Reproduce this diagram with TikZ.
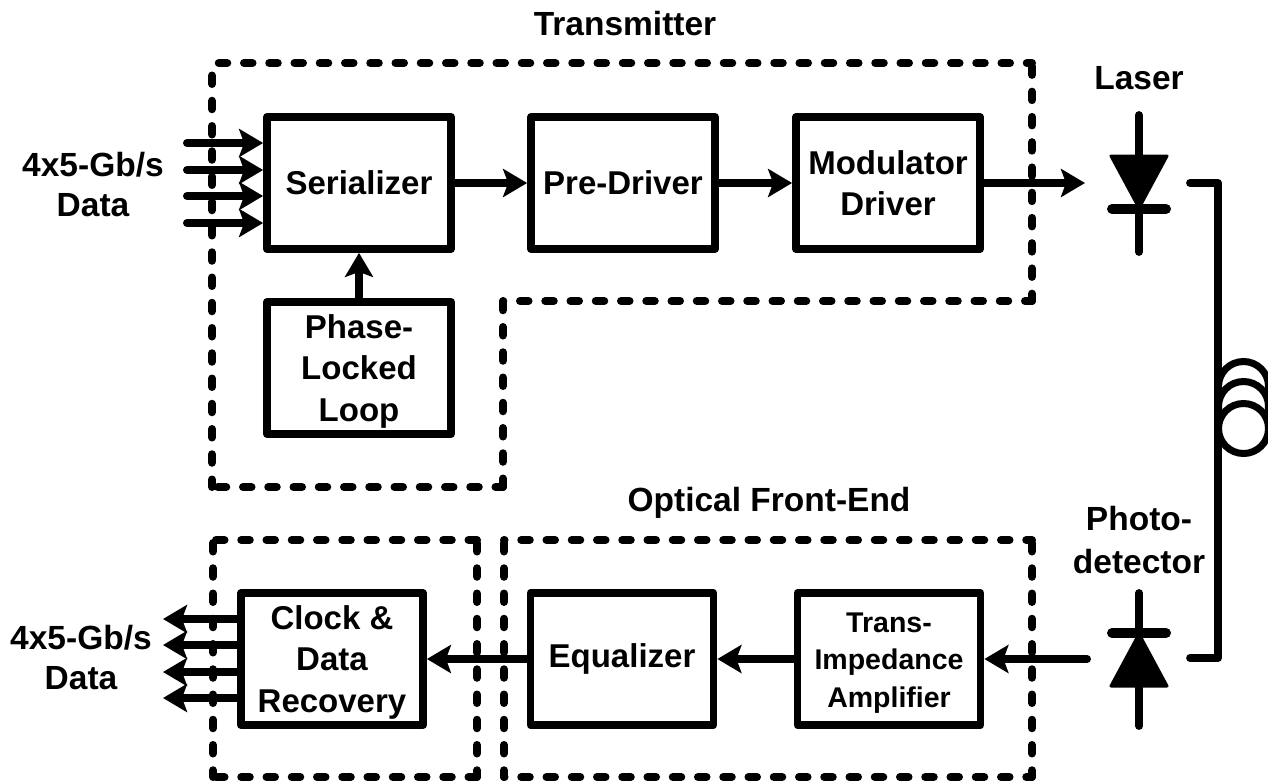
\documentclass[tikz,border=0pt]{standalone}
\usepackage{fontspec}
\setmainfont{Liberation Sans}
\usetikzlibrary{arrows.meta,calc}
\newcommand{\topfix}{\rule{0pt}{30pt}}
\tikzset{
 blockbox/.style={draw=black,line width=7.8pt,line join=round,align=center,inner sep=0pt,font=\fontsize{33}{41.5}\selectfont\bfseries,minimum width=184pt,minimum height=132pt},
 lbl/.style={align=center,inner sep=0pt,font=\fontsize{33.5}{40}\selectfont\bfseries},
 flow/.style={line width=8pt,line cap=round,-{Stealth[length=24pt,width=28pt,inset=5pt]}},
 dashside/.style={line width=8pt,line cap=round,dash pattern=on 8.5pt off 16.75pt},
 wire/.style={line width=7.8pt,line cap=round,line join=round},
 bar/.style={line width=10pt,line cap=round},
 tri/.style={fill=black,draw=black,line width=3pt,line join=round},
 coil/.style={draw=black,fill=white,line width=7pt},
}
\begin{document}
\begin{tikzpicture}[x=1pt,y=-1pt]
\useasboundingbox (0,0) rectangle (1268,782);
% blocks
\node[blockbox] (ser) at (359,183) {Serializer};
\node[blockbox] (pre) at (623,183) {Pre-Driver};
\node[blockbox] (mod) at (888,183) {Modulator\\Driver};
\node[blockbox] (pll) at (359,368) {\topfix Phase-\\Locked\\Loop};
\node[blockbox,minimum width=182pt] (cdr) at (332,659) {\topfix Clock \&\\Data\\Recovery};
\node[blockbox,minimum width=183pt] (eq) at (622,659) {Equalizer};
\node[blockbox,minimum width=183pt,font=\fontsize{28.5}{37.5}\selectfont\bfseries] (tia) at (889,659) {\rule{0pt}{27pt}Trans-\\Impedance\\Amplifier};
% labels
\node[lbl] (ltx) at (625,24) {Transmitter};
\node[lbl] (llaser) at (1139,78) {Laser};
\node[lbl] (lofe) at (769,503) {Optical Front-End};
\node[lbl,font=\fontsize{33.5}{42.5}\selectfont\bfseries] (lpd) at (1139,540) {Photo-\\detector};
\node[lbl] (lin) at (93,185) {4x5-Gb/s\\Data};
\node[lbl] (lout) at (81,658) {4x5-Gb/s\\Data};
% dashed regions
\coordinate (t1) at (212,63); \coordinate (t2) at (1032,63); \coordinate (t3) at (1032,301);
\coordinate (t4) at (503,301); \coordinate (t5) at (503,487); \coordinate (t6) at (212,487);
\coordinate (c1) at (213,540); \coordinate (c2) at (477,540); \coordinate (c3) at (477,777); \coordinate (c4) at (213,777);
\coordinate (f1) at (504,540); \coordinate (f2) at (1032,540); \coordinate (f3) at (1032,777); \coordinate (f4) at (504,777);
\foreach \a/\b/\p in {t1/t2/18.5,t2/t3/21.85,t3/t4/1.5,t4/t5/24.5,t5/t6/1,t6/t1/1,
  c1/c2/22.25,c1/c4/22.25,c2/c3/22.25,c4/c3/22.25,
  f1/f2/8,f1/f4/22.25,f2/f3/22.25,f4/f3/8}{
 \draw[dashside,dash phase=\p] (\a) -- (\b);
}
% data in
\foreach \n/\y in {a/143,b/170,c/196,d/223}{
 \coordinate (in\n) at (187,\y);
 \draw[flow] (in\n) -- (ser.west |- in\n);
}
% data out
\foreach \n/\y in {a/619,b/645,c/672,d/698}{
 \coordinate (out\n) at (163,\y);
 \draw[flow] (cdr.west |- out\n) -- (out\n);
}
\draw[flow] (ser.east) -- (pre.west);
\draw[flow] (pre.east) -- (mod.west);
\coordinate (ltip) at (1085,183);
\draw[flow] (mod.east) -- (ltip);
\draw[flow] (pll.north) -- (ser.south);
\draw[flow] (eq.west) -- (cdr.east);
\draw[flow] (tia.west) -- (eq.east);
\coordinate (pdout) at (1087,659);
\draw[flow] (pdout) -- (tia.east);
% laser diode
\coordinate (la) at (1139,115); \coordinate (lb) at (1139,252);
\draw[wire] (la) -- (lb);
\coordinate (ltl) at (1111,156); \coordinate (ltr) at (1167,156); \coordinate (ltb) at (1139,208);
\draw[tri] (ltl) -- (ltr) -- (ltb) -- cycle;
\coordinate (lbl) at (1112,209); \coordinate (lbr) at (1166,209);
\draw[bar] (lbl) -- (lbr);
% photodetector diode
\coordinate (pa) at (1139,593); \coordinate (pb) at (1139,726);
\draw[wire] (pa) -- (pb);
\coordinate (ptl) at (1111,686); \coordinate (ptr) at (1167,686); \coordinate (ptt) at (1139,634);
\draw[tri] (ptl) -- (ptr) -- (ptt) -- cycle;
\coordinate (pbl) at (1112,633); \coordinate (pbr) at (1166,633);
\draw[bar] (pbl) -- (pbr);
% fibre coil
\coordinate (k1) at (1243.5,386.5); \coordinate (k2) at (1243.5,406.5); \coordinate (k3) at (1243.5,428.5);
\draw[coil] (k1) circle (25);
\draw[coil] (k2) circle (25);
\draw[coil] (k3) circle (25);
\coordinate (w1) at (1190,183); \coordinate (w2) at (1218,183); \coordinate (w3) at (1218,658); \coordinate (w4) at (1190,658);
\draw[wire] (w1) -- (w2) -- (w3) -- (w4);
\end{tikzpicture}
\end{document}
